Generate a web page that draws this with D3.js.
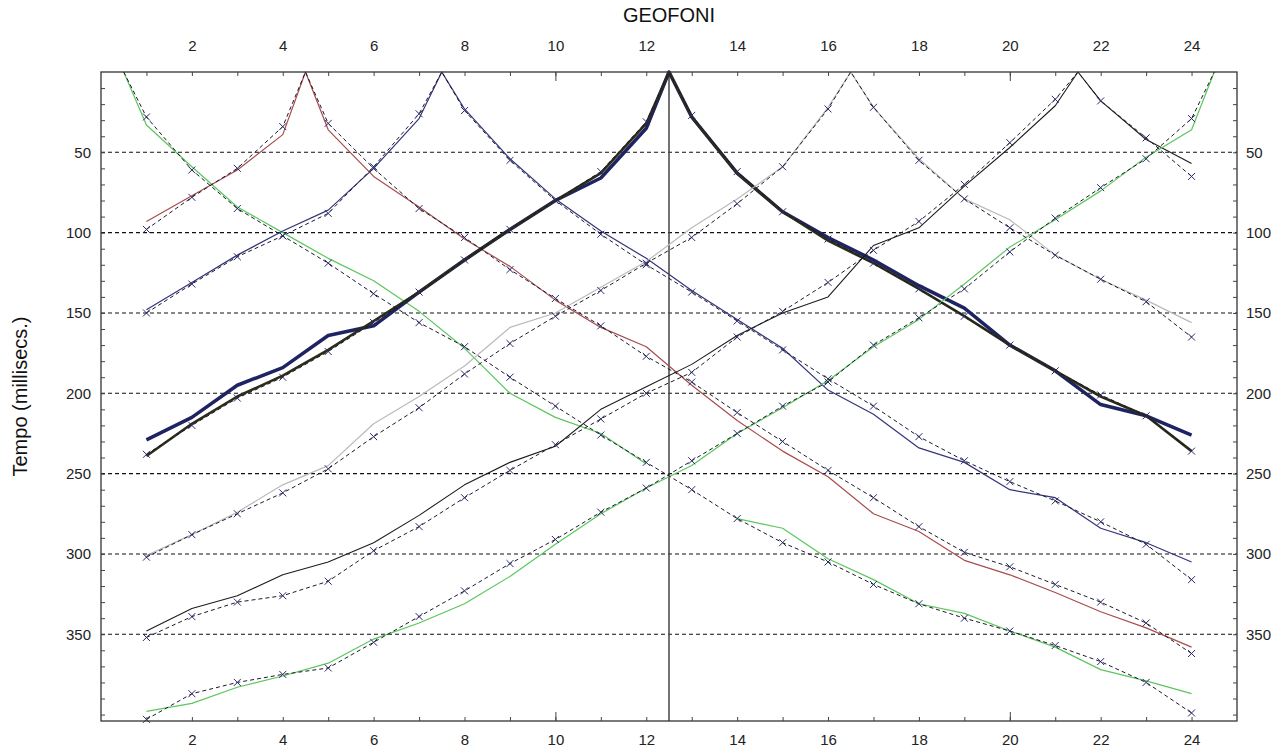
<!DOCTYPE html>
<html>
<head>
<meta charset="utf-8">
<script src="https://cdn.jsdelivr.net/npm/d3@7"></script>
<style>
  body { margin: 0; background: #fff; }
  svg { display: block; }
  .tick text { font-family: "Liberation Sans", Arial, sans-serif; font-size: 15px; fill: #222; }
</style>
</head>
<body>
<div id="chart"></div>
<script>
// geophone positions and tick labels
const geofoni = [1, 2, 3, 4, 5, 6, 7, 8, 9, 10, 11, 12, 13, 14, 15, 16, 17, 18, 19, 20, 21, 22, 23, 24];
const xLabels = [2, 4, 6, 8, 10, 12, 14, 16, 18, 20, 22, 24];
const yLabels = [50, 100, 150, 200, 250, 300, 350];
const yMinor = [10, 20, 30, 40, 50, 60, 70, 80, 90, 100, 110, 120, 130, 140, 150, 160, 170, 180, 190, 200,
  210, 220, 230, 240, 250, 260, 270, 280, 290, 300, 310, 320, 330, 340, 350, 360, 370, 380, 390, 400];

// shot positions (geophone units)
const shots = [0.5, 4.5, 7.5, 12.5, 16.5, 21.5, 24.5];

// picked (observed) first arrivals, ms, one per geophone
const obs1 = [33, 59, 84, 100, 116, 130, 149, 172, 200, 215, 225, 244, null, 278, 284, 303, 316, 331, 337, 348, 358, 372, 379, 387];
const obs2 = [93, 77, 61, 39, 36, 65, 84, 104, 121, 142, 159, 171, 195, 217, 236, 252, 275, 286, 304, 313, 324, 336, 346, 358];
const obs3 = [148, 131, 114, 99, 86, 60, 29, 23, 54, 79, 99, 116, 136, 154, 172, 198, 213, 234, 243, 260, 265, 284, 293, 305];
const obs4a = [229, 215, 195, 184, 164, 158, 137, 117, 98, 80, 66, 35, 28, 63, 87, 103, 117, 133, 147, 170, 186, 207, 214, 226];
const obs4b = [239, 219, 202, 189, 173, 155, 137, 117, 98, 80, 63, 32, 28, 63, 87, 105, 119, 135, 152, 170, 186, 202, 214, 236];
const obs5 = [301, 288, 274, 257, 245, 219, 202, 183, 159, 150, 134, 118, 97, 79, 59, 22, 22, 54, 79, 92, 114, 129, 142, 156];
const obs6 = [348, 334, 326, 313, 305, 293, 276, 257, 243, 233, 210, 196, 182, 164, 150, 140, 108, 97, 71, 47, 21, 18, 42, 57];
const obs7 = [398, 393, 383, 376, 368, 353, 343, 331, 314, 294, 275, 259, 245, 225, 209, 192, 171, 154, 132, 109, 92, 74, 53, 36];

// modelled travel times, ms
const mod1 = [28, 61, 85, 102, 119, 138, 156, 171, 190, 208, 226, 243, 260, 278, 293, 305, 319, 331, 340, 348, 357, 367, 380, 399];
const mod2 = [98, 78, 60, 34, 32, 60, 85, 103, 123, 141, 158, 177, 193, 212, 230, 248, 265, 283, 299, 308, 319, 330, 343, 362];
const mod3 = [150, 132, 115, 102, 88, 59, 26, 24, 55, 80, 101, 120, 137, 155, 173, 191, 208, 227, 242, 255, 267, 280, 294, 316];
const mod4 = [238, 220, 203, 190, 174, 156, 137, 117, 98, 80, 62, 31, 27, 62, 87, 104, 119, 135, 152, 170, 186, 201, 214, 236];
const mod5 = [302, 288, 275, 262, 247, 227, 209, 188, 169, 152, 136, 119, 103, 82, 59, 23, 22, 55, 79, 97, 114, 129, 143, 165];
const mod6 = [352, 339, 330, 326, 317, 298, 283, 265, 248, 232, 216, 200, 187, 165, 149, 131, 111, 93, 70, 44, 17, 18, 41, 65];
const mod7 = [403, 387, 380, 375, 371, 355, 339, 323, 306, 291, 274, 259, 242, 225, 208, 193, 170, 153, 135, 112, 91, 72, 54, 29];

const observed = [
  { shot: shots[0], values: obs1, color: "#5cc65c", width: 1.2 },
  { shot: shots[1], values: obs2, color: "#a84c4c", width: 1.2 },
  { shot: shots[2], values: obs3, color: "#34347c", width: 1.2 },
  { shot: shots[3], values: obs4a, color: "#1e2462", width: 3.5 },
  { shot: shots[3], values: obs4b, color: "#2c2c18", width: 2.6 },
  { shot: shots[4], values: obs5, color: "#bababa", width: 1.2 },
  { shot: shots[5], values: obs6, color: "#1c1c1c", width: 1.1 },
  { shot: shots[6], values: obs7, color: "#5cc65c", width: 1.2 }
];
const modelled = [
  { shot: shots[0], values: mod1 },
  { shot: shots[1], values: mod2 },
  { shot: shots[2], values: mod3 },
  { shot: shots[3], values: mod4 },
  { shot: shots[4], values: mod5 },
  { shot: shots[5], values: mod6 },
  { shot: shots[6], values: mod7 }
];

const width = 1281, height = 753;
const margin = { top: 72, right: 44, bottom: 32, left: 101 };

const svg = d3.select("#chart").append("svg")
  .attr("width", width)
  .attr("height", height);

const x = d3.scaleLinear().domain([0, 25]).range([margin.left, width - margin.right]);
const y = d3.scaleLinear().domain([0, 404]).range([margin.top, height - margin.bottom]);

// merge shot point (t = 0) into geophone series
function toPoints(s) {
  const pts = geofoni.map((g, i) => [g, s.values[i]]);
  pts.push([s.shot, 0]);
  return pts.sort((a, b) => a[0] - b[0]);
}

const line = d3.line()
  .defined(d => d[1] != null)
  .x(d => x(d[0]))
  .y(d => y(d[1]));

// horizontal dashed grid
svg.append("g")
  .selectAll("line")
  .data(yLabels)
  .join("line")
  .attr("x1", x(0)).attr("x2", x(25))
  .attr("y1", d => y(d)).attr("y2", d => y(d))
  .attr("stroke", "#111")
  .attr("stroke-width", 1.1)
  .attr("stroke-dasharray", "4,3");

// centre line
svg.append("line")
  .attr("x1", x(12.5)).attr("x2", x(12.5))
  .attr("y1", y(0)).attr("y2", y(404))
  .attr("stroke", "#444")
  .attr("stroke-width", 1.5);

// observed curves
svg.append("g")
  .selectAll("path")
  .data(observed)
  .join("path")
  .attr("d", d => line(toPoints(d)))
  .attr("fill", "none")
  .attr("stroke", d => d.color)
  .attr("stroke-width", d => d.width)
  .attr("stroke-linejoin", "round");

// modelled curves (dashed)
svg.append("g")
  .selectAll("path")
  .data(modelled)
  .join("path")
  .attr("d", d => line(toPoints(d)))
  .attr("fill", "none")
  .attr("stroke", "#1a1a2e")
  .attr("stroke-width", 1)
  .attr("stroke-dasharray", "4,3");

// x markers on the modelled points
const markers = svg.append("g")
  .attr("stroke", "#2a2a66")
  .attr("stroke-width", 1);
modelled.forEach(m => {
  geofoni.forEach((g, i) => {
    const cx = x(g), cy = y(m.values[i]);
    markers.append("path")
      .attr("d", `M${cx - 3.5},${cy - 3.5}L${cx + 3.5},${cy + 3.5}M${cx - 3.5},${cy + 3.5}L${cx + 3.5},${cy - 3.5}`);
  });
});

// frame
svg.append("rect")
  .attr("x", x(0)).attr("y", y(0))
  .attr("width", x(25) - x(0))
  .attr("height", y(404) - y(0))
  .attr("fill", "none")
  .attr("stroke", "#333")
  .attr("stroke-width", 1.3);

// axes
const fmtX = d => xLabels.includes(d) ? d : "";
const fmtY = d => yLabels.includes(d) ? d : "";

svg.append("g")
  .attr("transform", `translate(0,${y(0)})`)
  .call(d3.axisTop(x).tickValues(geofoni).tickSize(-4).tickPadding(21).tickFormat(fmtX))
  .call(g => g.select(".domain").remove());
svg.append("g")
  .attr("transform", `translate(0,${y(404)})`)
  .call(d3.axisBottom(x).tickValues(geofoni).tickSize(-4).tickPadding(13).tickFormat(fmtX))
  .call(g => g.select(".domain").remove());
// longer ticks at 10 and 20
[y(0), y(404)].forEach((yy, k) => {
  svg.append("g")
    .attr("transform", `translate(0,${yy})`)
    .call((k === 0 ? d3.axisTop(x) : d3.axisBottom(x)).tickValues([10, 20]).tickSize(-9).tickFormat(""))
    .call(g => g.select(".domain").remove());
});
svg.append("g")
  .attr("transform", `translate(${x(0)},0)`)
  .call(d3.axisLeft(y).tickValues(yMinor).tickSize(-4).tickPadding(10).tickFormat(fmtY))
  .call(g => g.select(".domain").remove());
svg.append("g")
  .attr("transform", `translate(${x(25)},0)`)
  .call(d3.axisRight(y).tickValues(yMinor).tickSize(-4).tickPadding(9).tickFormat(fmtY))
  .call(g => g.select(".domain").remove());

svg.selectAll(".tick line").attr("stroke", "#444");

// titles
svg.append("text")
  .attr("x", x(12.5))
  .attr("y", 22)
  .attr("text-anchor", "middle")
  .attr("font-family", "Liberation Sans, Arial, sans-serif")
  .attr("font-size", 20)
  .attr("fill", "#111")
  .text("GEOFONI");

svg.append("text")
  .attr("transform", `translate(27,${(y(0) + y(404)) / 2}) rotate(-90)`)
  .attr("text-anchor", "middle")
  .attr("font-family", "Liberation Sans, Arial, sans-serif")
  .attr("font-size", 20)
  .attr("fill", "#111")
  .text("Tempo (millisecs.)");
</script>
</body>
</html>
